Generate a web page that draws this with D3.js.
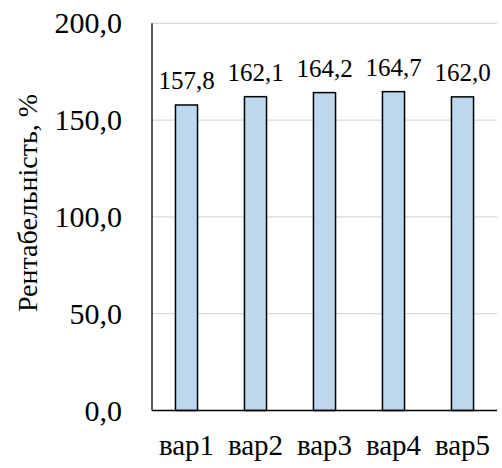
<!DOCTYPE html>
<html><head><meta charset="utf-8">
<script src="https://cdn.jsdelivr.net/npm/d3@7"></script>
<style>body{margin:0;background:#fff}</style>
</head><body>
<script>
const categories = ["вар1","вар2","вар3","вар4","вар5"];
const values = [157.8,162.1,164.2,164.7,162.0];
const yTicks = [0,50,100,150,200];
const yTitle = "Рентабельність, %";

const W=502,H=468;
const FONT="Liberation Serif";
const m={left:152,right:5,top:23.3,bottom:57.5};
const svg=d3.select("body").append("svg").attr("width",W).attr("height",H)
 .attr("font-family",FONT).style("display","block");
const x=d3.scaleBand().domain(categories).range([m.left,W-m.right]).paddingInner(0.68).paddingOuter(0.34);
const y=d3.scaleLinear().domain([0,200]).range([H-m.bottom,m.top]);
const fmt=v=>d3.format(".1f")(v).replace(".",",");

svg.append("g").selectAll("line").data(yTicks.filter(d=>d>0)).join("line")
 .attr("x1",m.left).attr("x2",W-m.right).attr("y1",d=>y(d)).attr("y2",d=>y(d))
 .attr("stroke","#d9d9d9").attr("stroke-width",1.3);

svg.append("g").selectAll("rect").data(values).join("rect")
 .attr("x",(d,i)=>x(categories[i])).attr("width",x.bandwidth())
 .attr("y",d=>y(d)).attr("height",d=>y(0)-y(d))
 .attr("fill","#bdd7ee").attr("stroke","#000").attr("stroke-width",1.5);

svg.append("line").attr("x1",m.left).attr("x2",m.left).attr("y1",y(200)).attr("y2",y(0)).attr("stroke","#000").attr("stroke-width",1.3);
svg.append("line").attr("x1",m.left).attr("x2",W-m.right).attr("y1",y(0)).attr("y2",y(0)).attr("stroke","#000").attr("stroke-width",1.3);

svg.selectAll("text.tick").data(yTicks).join("text").attr("class","tick")
 .attr("x",122).attr("y",d=>y(d)+10).attr("text-anchor","end")
 .attr("font-family",FONT).style("font-family",FONT).attr("font-size",30).text(fmt);

svg.selectAll("text.val").data(values).join("text").attr("class","val")
 .attr("x",(d,i)=>x(categories[i])+x.bandwidth()/2).attr("y",d=>y(d)-16)
 .attr("text-anchor","middle").attr("font-family",FONT).style("font-family",FONT).attr("font-size",25).text(fmt);

svg.selectAll("text.cat").data(categories).join("text").attr("class","cat")
 .attr("x",d=>x(d)+x.bandwidth()/2).attr("y",455)
 .attr("text-anchor","middle").attr("font-family",FONT).style("font-family",FONT).attr("font-size",29).text(d=>d);

svg.append("text").attr("transform",`translate(37,203) rotate(-90)`)
 .attr("text-anchor","middle").attr("font-family",FONT).style("font-family",FONT).attr("font-size",28).text(yTitle);
</script>
</body></html>
